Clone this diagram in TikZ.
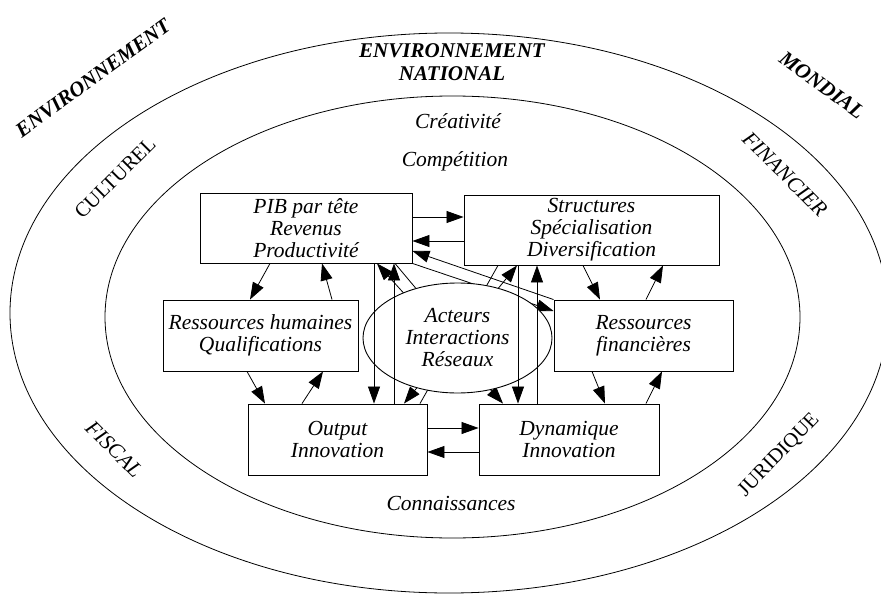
\documentclass[tikz,border=0pt]{standalone}
\usepackage{fontspec}
\setmainfont{Liberation Serif}
\usetikzlibrary{arrows.meta,shapes.geometric}
\pgfdeclarelayer{bg}
\pgfsetlayers{bg,main}
\newcommand\dgbody{\fontsize{21.5}{22}\selectfont\itshape}
\newcommand\dgtitle{\fontsize{21}{23}\selectfont\bfseries\itshape}
\newcommand\dgrm{\fontsize{20.5}{22}\selectfont}
\begin{document}
\begin{tikzpicture}[x=1pt,y=-1pt,
  ring/.style={line width=0.8pt},
  box/.style={draw,line width=0.9pt,minimum height=71pt,inner sep=0pt,align=center,font=\dgbody,fill=white},
  arr/.style={line width=0.8pt,-{Triangle[length=17pt,width=12pt]}},
  darr/.style={line width=0.8pt,{Triangle[length=17pt,width=12pt]}-{Triangle[length=17pt,width=12pt]}},
  plain/.style={line width=0.8pt},
  itx/.style={font=\dgbody,inner sep=0pt},
  ttl/.style={font=\dgtitle,inner sep=0pt,align=center},
  rmx/.style={font=\dgrm,inner sep=0pt}]
\useasboundingbox (0,0) rectangle (881,594);
\draw[ring] (449,313) ellipse [x radius=439, y radius=280];
\draw[ring] (452.5,317) ellipse [x radius=347.5, y radius=221];

% boxes
\node[box,minimum width=212pt,minimum height=70pt] (pib) at (306,228) {PIB par tête\\Revenus\\Productivité};
\node[box,minimum width=255pt,minimum height=70pt] (str) at (591.5,230) {Structures\\Spécialisation\\Diversification};
\node[box,minimum width=195pt] (rh) at (260.5,335.5) {Ressources humaines\\Qualifications};
\node[box,minimum width=179pt] (rf) at (643.5,335.5) {Ressources\\financières};
\node[box,minimum width=179pt] (out) at (337.5,439.5) {Output\\Innovation};
\node[box,minimum width=180pt] (dyn) at (569,439.5) {Dynamique\\Innovation};
\node[draw,ellipse,line width=0.9pt,fill=white,minimum width=189pt,minimum height=110pt,inner sep=0pt,align=center,font=\dgbody] (act) at (457.5,338) {Acteurs\\Interactions\\Réseaux};

% connectors behind the ellipse
\begin{pgfonlayer}{bg}
\draw[darr] (377,0 |- pib.south) -- (503,0 |- dyn.north);
\draw[plain] (395,0 |- pib.south) -- (act.center);
\draw[darr] (404,0 |- out.north) -- (517,0 |- str.south);
\draw[plain] (420,0 |- out.north) -- (498,0 |- str.south);
\draw[arr] (rf.north west) -- (pib.east |- 0,251);
\draw[arr] (pib.south east) -- (rf.west |- 0,311);
\end{pgfonlayer}

% verticals over the ellipse
\draw[arr] (374,0 |- pib.south) -- (374,0 |- out.north);
\draw[arr] (394,0 |- out.north) -- (394,0 |- pib.south);
\draw[arr] (518,0 |- str.south) -- (518,0 |- dyn.north);
\draw[arr] (537,0 |- dyn.north) -- (537,0 |- str.south);

% horizontals
\draw[arr] (pib.east |- 0,217) -- (str.west |- 0,217);
\draw[arr] (str.west |- 0,241) -- (pib.east |- 0,241);
\draw[arr] (out.east |- 0,428) -- (dyn.west |- 0,428);
\draw[arr] (dyn.west |- 0,452) -- (out.east |- 0,452);

% left side
\draw[arr] (270,0 |- pib.south) -- (250,0 |- rh.north);
\draw[arr] (332,0 |- rh.north) -- (322,0 |- pib.south);
\draw[arr] (247,0 |- rh.south) -- (265,0 |- out.north);
\draw[arr] (302,0 |- out.north) -- (323,0 |- rh.south);
% right side
\draw[arr] (583,0 |- str.south) -- (600,0 |- rf.north);
\draw[arr] (646,0 |- rf.north) -- (663,0 |- str.south);
\draw[arr] (592,0 |- rf.south) -- (605,0 |- dyn.north);
\draw[arr] (646,0 |- dyn.north) -- (662,0 |- rf.south);

% texts
\node[ttl,anchor=north] (tnat) at (452,43) {ENVIRONNEMENT\\NATIONAL};
\node[itx,anchor=base] (crea) at (458,128) {Créativité};
\node[itx,anchor=base] (comp) at (455,166) {Compétition};
\node[itx,anchor=base] (conn) at (451,510) {Connaissances};
\node[ttl,rotate=36] (tenv) at (93,78) {ENVIRONNEMENT};
\node[ttl,rotate=-36] (tmon) at (822,85) {MONDIAL};
\node[rmx,rotate=45] (tcul) at (115,178) {CULTUREL};
\node[itx,rotate=-45] (tfin) at (785,174) {FINANCIER};
\node[itx,rotate=-45] (tfis) at (114,449) {FISCAL};
\node[rmx,rotate=46] (tjur) at (779,455) {JURIDIQUE};
\end{tikzpicture}
\end{document}
